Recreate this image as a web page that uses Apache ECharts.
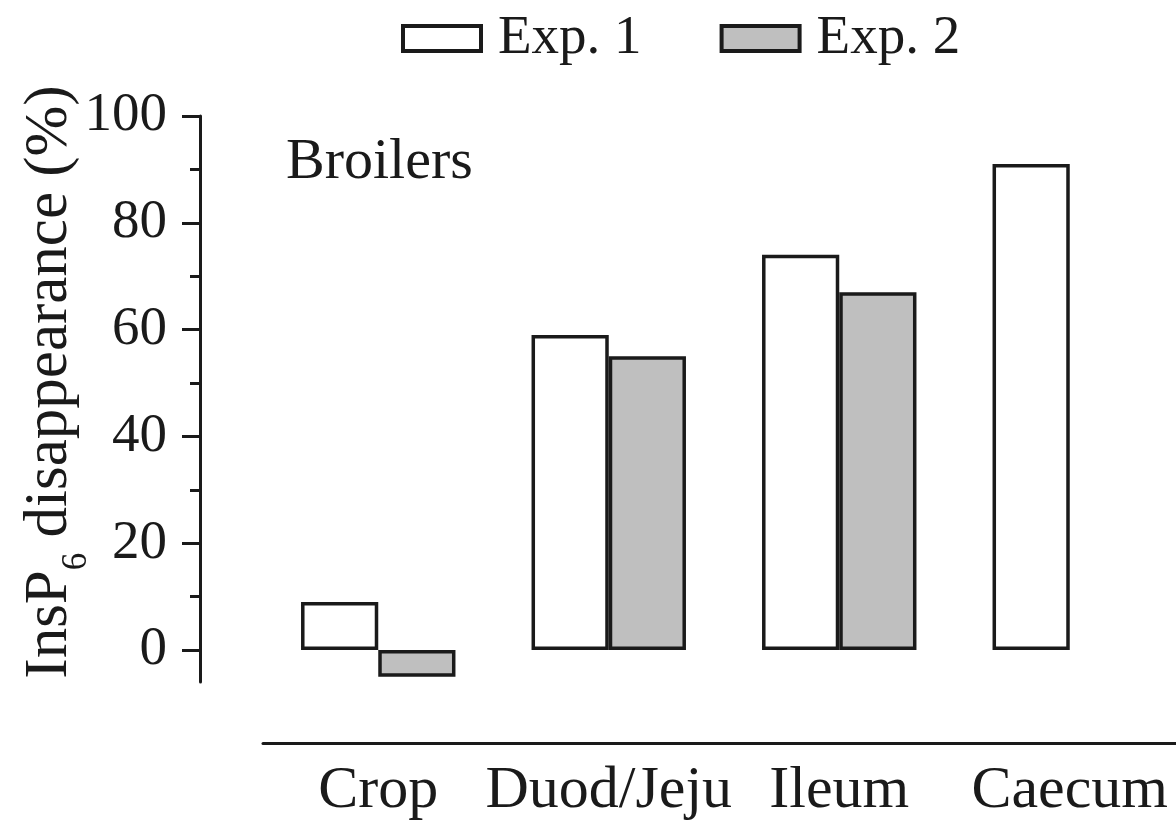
<!DOCTYPE html>
<html>
<head>
<meta charset="utf-8">
<script src="https://cdn.jsdelivr.net/npm/echarts@6/dist/echarts.min.js"></script>
<style>
html,body{margin:0;padding:0;background:#fff;}
#chart{width:1176px;height:823px;}
</style>
</head>
<body>
<div id="chart"></div>
<script>
const categories = ['Crop', 'Duod/Jeju', 'Ileum', 'Caecum'];
const exp1 = [9, 59, 74, 91];
const exp2 = [-5, 55, 67, null];
const majorTicks = [0, 20, 40, 60, 80, 100];
const minorTicks = [10, 30, 50, 70, 90];
const seriesNames = ['Exp. 1', 'Exp. 2'];
const yMin = -6, yMax = 100;

const FONT = '"Liberation Serif", "DejaVu Serif", serif';
const INK = '#1a1a1a';

const chart = echarts.init(document.getElementById('chart'), null, {renderer: 'canvas'});
chart.setOption({
  backgroundColor: '#ffffff',
  animation: false,
  textStyle: {fontFamily: FONT, color: INK},
  title: {
    text: 'Broilers',
    left: 281, top: 129,
    textStyle: {fontFamily: FONT, fontSize: 58, fontWeight: 'normal', color: INK}
  },
  legend: {
    left: 396, top: 6,
    itemWidth: 78, itemHeight: 25,
    itemGap: 78,
    icon: 'rect',
    itemStyle: {borderWidth: 4, borderColor: INK},
    textStyle: {fontFamily: FONT, fontSize: 55, color: INK, padding: [0, 0, 0, 12]},
    data: seriesNames
  },
  grid: {
    left: 263, top: 116, width: 922, height: 566,
    containLabel: false, outerBoundsMode: 'none'
  },
  xAxis: {
    type: 'category',
    data: categories,
    offset: 61,
    axisLine: {onZero: false, lineStyle: {color: INK, width: 3}},
    axisTick: {show: false},
    axisLabel: {fontFamily: FONT, fontSize: 60, color: INK, margin: 18, interval: 0, hideOverlap: false},
    splitLine: {show: false}
  },
  yAxis: [
    {
      type: 'value', position: 'left', offset: 63,
      min: yMin, max: yMax,
      name: 'InsP{s|6} disappearance (%)',
      nameLocation: 'middle', nameGap: 106,
      nameMoveOverlap: false,
      nameTextStyle: {
        fontFamily: FONT, fontSize: 61, color: INK, lineHeight: 88,
        padding: [0, 0, 0, 34],
        rich: {s: {fontFamily: FONT, fontSize: 35, color: INK, verticalAlign: 'bottom', lineHeight: 35}}
      },
      axisLine: {show: true, lineStyle: {color: INK, width: 3}},
      axisTick: {show: true, customValues: majorTicks, length: 18, lineStyle: {color: INK, width: 3}},
      axisLabel: {customValues: majorTicks, fontFamily: FONT, fontSize: 55, color: INK, margin: 33},
      splitLine: {show: false}
    },
    {
      type: 'value', position: 'left', offset: 63,
      min: yMin, max: yMax,
      axisLine: {show: false},
      axisTick: {show: true, customValues: minorTicks, length: 10, lineStyle: {color: INK, width: 3}},
      axisLabel: {show: false},
      splitLine: {show: false}
    }
  ],
  series: [
    {
      name: seriesNames[0], type: 'bar', data: exp1,
      barGap: '0%', barCategoryGap: '33%',
      itemStyle: {color: '#ffffff', borderColor: INK, borderWidth: 3.5}
    },
    {
      name: seriesNames[1], type: 'bar', data: exp2,
      itemStyle: {color: '#bfbfbf', borderColor: INK, borderWidth: 3.5}
    }
  ]
});
</script>
</body>
</html>
